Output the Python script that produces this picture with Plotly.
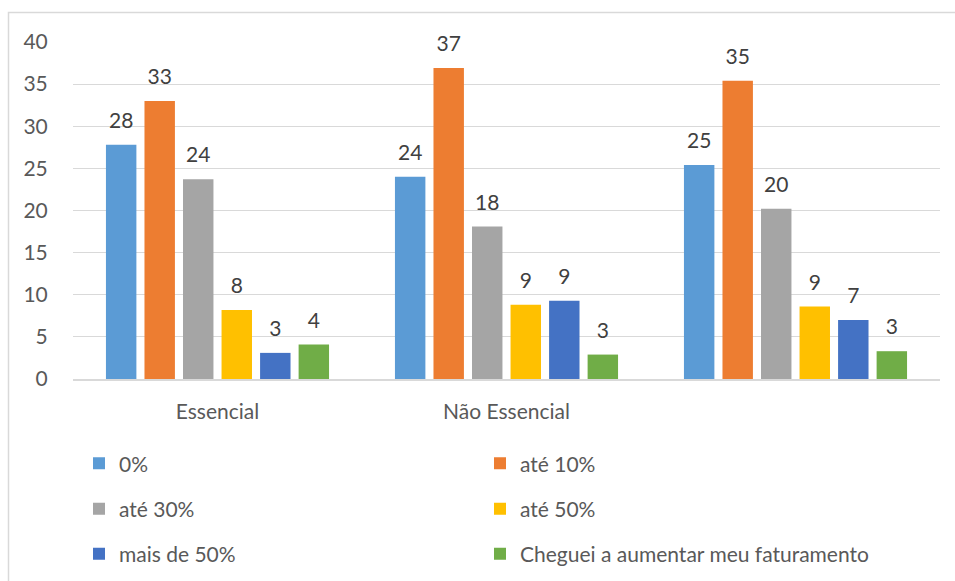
import plotly.graph_objects as go

categories = ["Essencial", "Não Essencial", " "]
series_names = ["0%", "até 10%", "até 30%", "até 50%", "mais de 50%",
                "Cheguei a aumentar meu faturamento"]
colors = ["#5B9BD5", "#ED7D31", "#A5A5A5", "#FFC000", "#4472C4", "#70AD47"]

v_0 = [27.8, 24.0, 25.4]
v_ate10 = [33.0, 36.9, 35.4]
v_ate30 = [23.7, 18.1, 20.2]
v_ate50 = [8.2, 8.8, 8.6]
v_mais50 = [3.1, 9.3, 7.0]
v_aumentar = [4.1, 2.9, 3.3]
series_values = [v_0, v_ate10, v_ate30, v_ate50, v_mais50, v_aumentar]

FONT = "Lato"
FS = 21
W, H = 955, 581
ML, MR, MT, MB = 73, 15, 42, 202
PW, PH = W - ML - MR, H - MT - MB

def px2x(px):
    return (px - ML) / PW

def py2y(py):
    return (H - MB - py) / PH

fig = go.Figure()
legend_names = ["legend", "legend2", "legend3", "legend4", "legend5", "legend6"]
for i, (name, vals, col) in enumerate(zip(series_names, series_values, colors)):
    fig.add_trace(go.Bar(
        name=name, x=categories, y=vals, marker_color=col,
        marker_line_width=0, legend=legend_names[i], offsetgroup=str(i),
    ))
for i, (name, vals) in enumerate(zip(series_names, series_values)):
    fig.add_trace(go.Scatter(
        x=categories, y=vals, mode="markers+text",
        text=[f"{v:.0f}" for v in vals], textposition="top center",
        textfont=dict(family=FONT, size=FS, color="#404040"),
        marker=dict(size=17, opacity=0), offsetgroup=str(i),
        showlegend=False, hoverinfo="skip", cliponaxis=False,
    ))

layout_legends = {}
col_x = [93, 494]
row_y = [463.7, 509, 554]
for i, ln in enumerate(legend_names):
    r, c = divmod(i, 2)
    layout_legends[ln] = dict(
        xref="container", yref="container",
        x=(col_x[c] - 14) / W, y=1 - row_y[r] / H, xanchor="left", yanchor="middle",
        orientation="h", font=dict(family=FONT, size=FS, color="#595959"),
        bgcolor="rgba(0,0,0,0)",
    )

fig.update_layout(
    width=W, height=H, margin=dict(l=ML, r=MR, t=MT, b=MB),
    paper_bgcolor="white", plot_bgcolor="white",
    barmode="group", bargap=0.2, bargroupgap=0.21,
    scattermode="group", scattergap=0.2,
    font=dict(family=FONT, size=FS, color="#595959"),
    xaxis=dict(showline=True, linecolor="#D9D9D9", linewidth=1.5, showgrid=False,
               ticks="outside", ticklen=13, tickcolor="rgba(0,0,0,0)",
               tickfont=dict(family=FONT, size=FS, color="#595959"),
               categoryorder="array", categoryarray=categories, fixedrange=True),
    yaxis=dict(range=[0, 40], dtick=5, showgrid=True, gridcolor="#D9D9D9", gridwidth=1,
               zeroline=False, showline=False, ticks="outside", ticklen=20,
               tickcolor="rgba(0,0,0,0)",
               tickfont=dict(family=FONT, size=FS, color="#595959"), fixedrange=True),
    shapes=[dict(type="rect", xref="paper", yref="paper",
                 x0=px2x(8.5), x1=px2x(965), y0=py2y(595), y1=py2y(12.5),
                 line=dict(color="#D9D9D9", width=1.5), fillcolor="rgba(0,0,0,0)",
                 layer="below")],
    showlegend=True,
    **layout_legends,
)

fig.write_html("out.html")
